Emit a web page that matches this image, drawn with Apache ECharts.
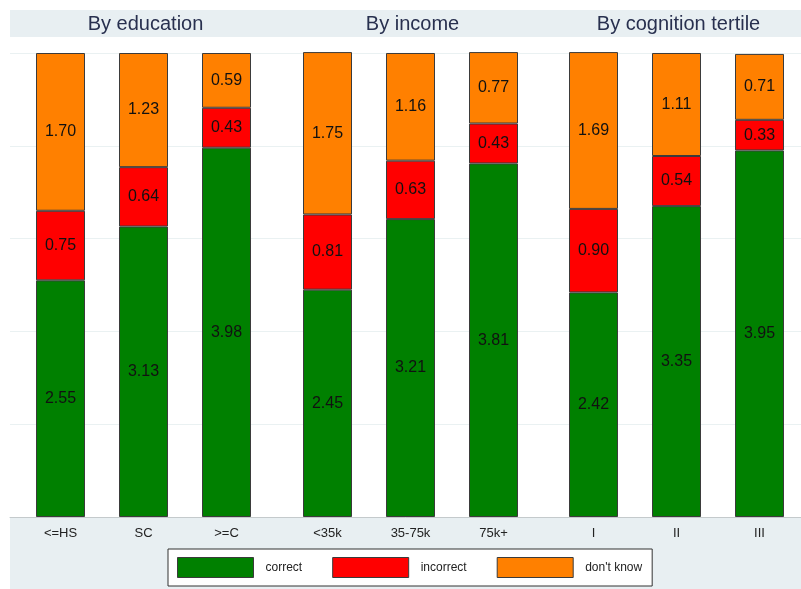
<!DOCTYPE html>
<html>
<head>
<meta charset="utf-8">
<script src="https://cdn.jsdelivr.net/npm/echarts@6/dist/echarts.min.js"></script>
<style>
  html, body { margin: 0; padding: 0; background: #fff; }
  #chart { width: 801px; height: 589px; }
</style>
</head>
<body>
<div id="chart"></div>
<script>
// panels and their categories
const panelTitles = ['By education', 'By income', 'By cognition tertile']
const panelCats = [
  ['<=HS', 'SC', '>=C'],
  ['<35k', '35-75k', '75k+'],
  ['I', 'II', 'III'],
]

// values per panel (correct / incorrect / don't know)
const correct = [[2.55, 3.13, 3.98], [2.45, 3.21, 3.81], [2.42, 3.35, 3.95]]
const incorrect = [[0.75, 0.64, 0.43], [0.81, 0.63, 0.43], [0.90, 0.54, 0.33]]
const dontKnow = [[1.70, 1.23, 0.59], [1.75, 1.16, 0.77], [1.69, 1.11, 0.71]]

const seriesNames = ['correct', 'incorrect', "don't know"]
const seriesColors = ['#008000', '#ff0000', '#ff8000']
const seriesData = [correct, incorrect, dontKnow]

const chart = echarts.init(document.getElementById('chart'), null, { renderer: 'canvas' })

const gridLefts = [19, 286, 552]
const gridWidth = 249
const panelBg = '#e8eff2'
const font = 'Liberation Sans, Arial'

// three panel grids + one full-width backdrop grid for the faint rules
const grids = gridLefts.map(l => ({ left: l, width: gridWidth, top: 53, bottom: 72 }))
grids.push({ left: 10, right: 0, top: 53, bottom: 72 })

const xAxes = panelCats.map((cats, i) => ({
  type: 'category',
  gridIndex: i,
  data: cats,
  axisTick: { show: false },
  axisLine: { show: false },
  axisLabel: { color: '#222', fontSize: 13, fontFamily: font, margin: 10 },
}))
xAxes.push({
  type: 'value',
  gridIndex: 3,
  min: 0,
  max: 1,
  axisTick: { show: false },
  axisLabel: { show: false },
  splitLine: { show: false },
  axisLine: { show: true, lineStyle: { color: '#c4cacc', width: 1 } },
})

const yAxes = panelCats.map((_, i) => ({
  type: 'value',
  gridIndex: i,
  min: 0,
  max: 5,
  interval: 1,
  axisLine: { show: false },
  axisTick: { show: false },
  axisLabel: { show: false },
  splitLine: { show: false },
}))
yAxes.push({
  type: 'value',
  gridIndex: 3,
  min: 0,
  max: 5,
  interval: 1,
  axisLine: { show: false },
  axisTick: { show: false },
  axisLabel: { show: false },
  splitLine: { show: true, lineStyle: { color: '#eaf1f2', width: 1 } },
})

const series = []
for (let p = 0; p < 3; p++) {
  for (let s = 0; s < 3; s++) {
    series.push({
      name: seriesNames[s],
      type: 'bar',
      stack: 'panel' + p,
      xAxisIndex: p,
      yAxisIndex: p,
      barWidth: 49,
      clip: false,
      data: seriesData[s][p],
      itemStyle: { color: seriesColors[s], borderColor: '#3b3b3b', borderWidth: 1 },
      label: {
        show: true,
        position: 'inside',
        color: '#111',
        fontSize: 16,
        fontFamily: font,
        formatter: d => d.value.toFixed(2),
      },
    })
  }
}

const option = {
  backgroundColor: '#fff',
  animation: false,
  graphic: [
    { type: 'rect', z: -10, shape: { x: 10, y: 10, width: 791, height: 27 }, style: { fill: panelBg } },
    { type: 'rect', z: -10, shape: { x: 10, y: 517, width: 791, height: 72 }, style: { fill: panelBg } },
  ],
  title: panelTitles.map((t, i) => ({
    text: t,
    left: gridLefts[i] + gridWidth / 2 - 3,
    top: 9,
    textAlign: 'center',
    textStyle: { fontSize: 20, fontWeight: 'normal', color: '#28304f', fontFamily: font },
  })),
  legend: {
    data: seriesNames,
    left: 168,
    top: 549,
    itemWidth: 76,
    itemHeight: 20,
    itemGap: 30,
    padding: [8, 10, 8, 9],
    backgroundColor: '#fff',
    borderColor: '#333',
    borderWidth: 1,
    borderRadius: 0,
    icon: 'rect',
    itemStyle: { borderColor: '#3b3b3b', borderWidth: 1 },
    textStyle: { fontSize: 12, color: '#222', fontFamily: font, padding: [0, 0, 0, 7] },
  },
  grid: grids,
  xAxis: xAxes,
  yAxis: yAxes,
  series: series,
}

chart.setOption(option)
</script>
</body>
</html>
